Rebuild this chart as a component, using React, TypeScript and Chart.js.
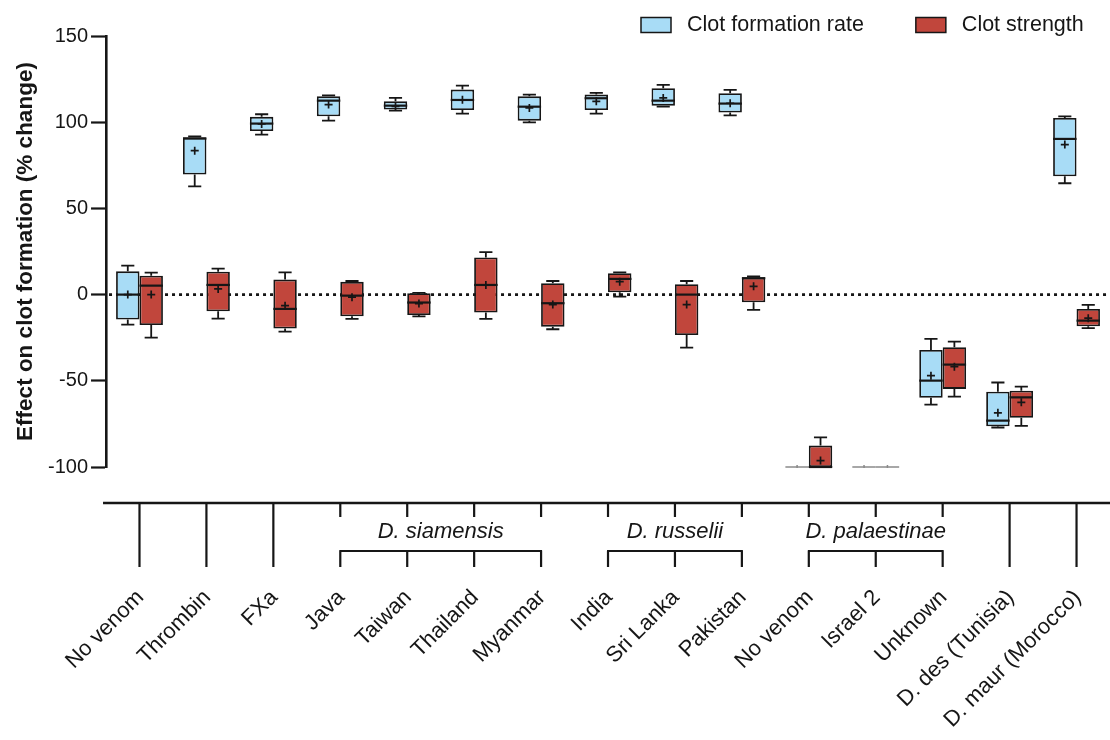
import React, { useEffect, useRef } from 'react';
import { Chart, registerables } from 'chart.js';

Chart.register(...registerables);

// Category labels along the bottom (two "No venom" entries: control and D. palaestinae)
const categories = [
  'No venom', 'Thrombin', 'FXa',
  'Java', 'Taiwan', 'Thailand', 'Myanmar',
  'India', 'Sri Lanka', 'Pakistan',
  'No venom', 'Israel 2', 'Unknown',
  'D. des (Tunisia)', 'D. maur (Morocco)',
];

// Species brackets: first and last category index covered by each bracket
const groupLabels = ['D. siamensis', 'D. russelii', 'D. palaestinae'];
const groupStart = [3, 7, 10];
const groupEnd = [6, 9, 12];

const yTicks = [-100, -50, 0, 50, 100, 150];

// Clot formation rate (% change): five-number summary and mean per category
const rateMin = [-17.4, 62.8, 92.8, 100.9, 106.7, 105, 99.9, 105, 109, 104, -100, -100, -63.8, -77.1, 64.6];
const rateQ1 = [-14.5, 69.6, 94.9, 103.4, 107.3, 107.1, 100.9, 107.1, 109.6, 105.6, -100, -100, -59.9, -76.4, 68.6];
const rateMedian = [0, 90.5, 99.2, 112.5, 109.6, 112.9, 109, 113.9, 112.5, 110.8, -100, -100, -49.9, -73.1, 90.3];
const rateQ3 = [13.5, 91.3, 103.1, 115, 112.1, 118.9, 115, 116, 119.7, 116.8, -100, -100, -32.1, -56.3, 102.5];
const rateMax = [16.8, 91.8, 104.6, 115.6, 114.1, 121.2, 116, 117, 121.6, 118.7, -100, -100, -25.7, -51, 103.4];
const rateMean = [0, 83.5, 99, 110.2, 109.2, 113, 108.3, 112.1, 114.1, 111, -100, -100, -47, -68.6, 87];

// Clot strength (% change)
const strengthMin = [-24.9, -13.9, -21.5, -14.1, -12.6, -14.1, -20.1, -1.2, -30.7, -8.9, -100, -100, -59.2, -76.2, -19.5];
const strengthQ1 = [-17.6, -9.7, -19.7, -12.6, -11.8, -10.4, -18.6, 1.4, -23.4, -4.5, -100, -100, -54.7, -71.5, -18.4];
const strengthMedian = [5.2, 5.6, -8.3, -0.6, -4.6, 5.6, -5, 9.1, 0, 9.5, -100, -100, -40.6, -59.6, -15.1];
const strengthQ3 = [11, 13.3, 8.7, 7.4, 0.8, 21.5, 6.6, 12.4, 6, 10, -87.6, -100, -30.5, -55.7, -8.3];
const strengthMax = [12.8, 15.1, 12.9, 7.9, 1, 24.6, 7.9, 12.9, 7.9, 10.6, -82.8, -100, -27.3, -53.4, -6];
const strengthMean = [0, 3.3, -6.4, -1.5, -5.2, 5.6, -5.8, 7.5, -5.8, 4.8, -96.3, -100, -41.8, -62.5, -13.7];

const FONT = "'Liberation Sans', Arial, Helvetica, sans-serif";
const INK = '#161616';
const RATE_FILL = '#A8DCF6';
const STRENGTH_FILL = '#C1463C';

type Stats = { min: number[]; q1: number[]; median: number[]; q3: number[]; max: number[]; mean: number[] };
type Series = { label: string; fill: string; stats: Stats };

const series: Series[] = [
  {
    label: 'Clot formation rate',
    fill: RATE_FILL,
    stats: { min: rateMin, q1: rateQ1, median: rateMedian, q3: rateQ3, max: rateMax, mean: rateMean },
  },
  {
    label: 'Clot strength',
    fill: STRENGTH_FILL,
    stats: { min: strengthMin, q1: strengthQ1, median: strengthMedian, q3: strengthQ3, max: strengthMax, mean: strengthMean },
  },
];

// Whiskers, medians, means, the dotted zero line, the bracketed category axis and the legend
const boxPlotPlugin = {
  id: 'boxPlotExtras',
  beforeDatasetsDraw(chart: any) {
    const { ctx, chartArea, scales } = chart;
    const y0 = scales.y.getPixelForValue(0);
    ctx.save();
    ctx.strokeStyle = INK;
    ctx.lineWidth = 2.6;
    ctx.setLineDash([3, 4]);
    ctx.beginPath();
    ctx.moveTo(chartArea.left + 3, y0);
    ctx.lineTo(chartArea.right, y0);
    ctx.stroke();
    ctx.restore();
  },
  afterDatasetsDraw(chart: any) {
    const { ctx, scales } = chart;
    const y = scales.y;
    ctx.save();
    ctx.strokeStyle = INK;
    ctx.lineCap = 'butt';
    series.forEach((s, d) => {
      const meta = chart.getDatasetMeta(d);
      meta.data.forEach((el: any, i: number) => {
        const { x, width } = el.getProps(['x', 'width'], true);
        const half = width / 2;
        const cap = width * 0.28;
        const pMin = y.getPixelForValue(s.stats.min[i]);
        const pQ1 = y.getPixelForValue(s.stats.q1[i]);
        const pMed = y.getPixelForValue(s.stats.median[i]);
        const pQ3 = y.getPixelForValue(s.stats.q3[i]);
        const pMax = y.getPixelForValue(s.stats.max[i]);
        const pMean = y.getPixelForValue(s.stats.mean[i]);
        const flat = s.stats.max[i] === s.stats.min[i];

        if (flat) {
          ctx.strokeStyle = '#8a8a8a';
          ctx.lineWidth = 1.5;
          ctx.beginPath();
          ctx.moveTo(x - half, pMed);
          ctx.lineTo(x + half, pMed);
          ctx.stroke();
          ctx.beginPath();
          ctx.moveTo(x, pMed - 2);
          ctx.lineTo(x, pMed + 1);
          ctx.stroke();
          ctx.strokeStyle = INK;
          return;
        }

        ctx.lineWidth = 1.8;
        ctx.beginPath();
        // upper whisker
        if (pMax < pQ3 - 0.5) {
          ctx.moveTo(x, pQ3);
          ctx.lineTo(x, pMax);
        }
        ctx.moveTo(x - cap, pMax);
        ctx.lineTo(x + cap, pMax);
        // lower whisker
        if (pMin > pQ1 + 0.5) {
          ctx.moveTo(x, pQ1);
          ctx.lineTo(x, pMin);
        }
        ctx.moveTo(x - cap, pMin);
        ctx.lineTo(x + cap, pMin);
        ctx.stroke();

        // median
        ctx.lineWidth = 2.2;
        ctx.beginPath();
        ctx.moveTo(x - half, pMed);
        ctx.lineTo(x + half, pMed);
        ctx.stroke();

        // mean
        ctx.lineWidth = 1.7;
        ctx.beginPath();
        ctx.moveTo(x - 4, pMean);
        ctx.lineTo(x + 4, pMean);
        ctx.moveTo(x, pMean - 4);
        ctx.lineTo(x, pMean + 4);
        ctx.stroke();
      });
    });
    ctx.restore();
  },
  afterDraw(chart: any) {
    const { ctx, chartArea, scales } = chart;
    const xs = scales.x;
    const axisY = 503;
    const tickEnd = 567;
    const shortEnd = 517;
    const bracketY = 551;
    const pos = (i: number) => xs.getPixelForValue(i);

    ctx.save();
    ctx.strokeStyle = INK;
    ctx.fillStyle = INK;
    ctx.lineWidth = 2.5;
    ctx.beginPath();
    ctx.moveTo(chartArea.left - 3, axisY);
    ctx.lineTo(chartArea.right, axisY);
    ctx.stroke();

    const grouped = (i: number) => groupStart.some((g, k) => i >= g && i <= groupEnd[k]);

    ctx.lineWidth = 2.2;
    ctx.beginPath();
    categories.forEach((_, i) => {
      const x = pos(i);
      if (grouped(i)) {
        ctx.moveTo(x, axisY);
        ctx.lineTo(x, shortEnd);
        ctx.moveTo(x, bracketY);
        ctx.lineTo(x, tickEnd);
      } else {
        ctx.moveTo(x, axisY);
        ctx.lineTo(x, tickEnd);
      }
    });
    groupStart.forEach((g, k) => {
      ctx.moveTo(pos(g) - 1, bracketY);
      ctx.lineTo(pos(groupEnd[k]) + 1, bracketY);
    });
    ctx.stroke();

    ctx.font = `italic 22px ${FONT}`;
    ctx.textAlign = 'center';
    ctx.textBaseline = 'middle';
    groupLabels.forEach((label, k) => {
      ctx.fillText(label, (pos(groupStart[k]) + pos(groupEnd[k])) / 2, 532);
    });

    ctx.font = `22px ${FONT}`;
    ctx.textAlign = 'right';
    ctx.textBaseline = 'middle';
    categories.forEach((label, i) => {
      ctx.save();
      ctx.translate(pos(i) + 1, 594);
      ctx.rotate(-Math.PI / 4);
      ctx.fillText(label, 0, 0);
      ctx.restore();
    });

    // legend
    ctx.font = `21.5px ${FONT}`;
    ctx.textAlign = 'left';
    ctx.textBaseline = 'middle';
    let lx = 641;
    const ly = 25;
    series.forEach((s) => {
      ctx.fillStyle = s.fill;
      ctx.fillRect(lx, ly - 7.5, 30, 15);
      ctx.lineWidth = 1.5;
      ctx.strokeStyle = INK;
      ctx.strokeRect(lx, ly - 7.5, 30, 15);
      ctx.fillStyle = INK;
      ctx.fillText(s.label, lx + 46, ly);
      lx += 46 + ctx.measureText(s.label).width + 52;
    });
    ctx.restore();
  },
};

function BoxPlotChart() {
  const canvasRef = useRef<HTMLCanvasElement | null>(null);

  useEffect(() => {
    const canvas = canvasRef.current;
    if (!canvas) return;
    const chart = new Chart(canvas, {
      type: 'bar',
      data: {
        labels: categories,
        datasets: series.map((s) => ({
          label: s.label,
          data: s.stats.q1.map((q, i) => [q, s.stats.q3[i]] as [number, number]),
          backgroundColor: s.fill,
          borderColor: INK,
          borderWidth: 1.8,
          borderSkipped: false,
          categoryPercentage: 0.7,
          barPercentage: 1,
        })),
      },
      options: {
        responsive: false,
        animation: false,
        layout: { padding: { top: 36, bottom: 273, left: 12, right: 0 } },
        plugins: {
          legend: { display: false },
          tooltip: { enabled: false },
        },
        scales: {
          x: { display: false },
          y: {
            min: -100,
            max: 150,
            afterBuildTicks: (scale: any) => {
              scale.ticks = yTicks.map((v) => ({ value: v }));
            },
            ticks: {
              color: INK,
              font: { family: FONT, size: 20 },
              padding: 3,
            },
            grid: {
              drawOnChartArea: false,
              drawTicks: true,
              tickLength: 15,
              tickWidth: 2.2,
              tickColor: INK,
            },
            border: { display: true, color: INK, width: 2.6 },
            title: {
              display: true,
              text: 'Effect on clot formation (% change)',
              color: INK,
              font: { family: FONT, size: 22.5, weight: 'bold' },
              padding: { top: 0, bottom: 6 },
            },
          },
        },
      },
      plugins: [boxPlotPlugin],
    });
    return () => chart.destroy();
  }, []);

  return <canvas ref={canvasRef} width={1110} height={740} />;
}

export default function App() {
  return (
    <div style={{ position: 'fixed', left: 0, top: 0, width: 1110, height: 740, background: '#fff' }}>
      <BoxPlotChart />
    </div>
  );
}
